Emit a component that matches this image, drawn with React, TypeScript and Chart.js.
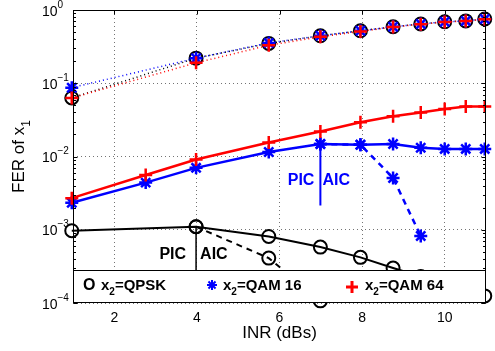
import React, { useEffect, useRef } from 'react';
import { Chart, registerables } from 'chart.js';

Chart.register(...registerables);

// INR grid (dB)
const inr = [0.97, 3.98, 5.74, 6.99, 7.96, 8.75, 9.42, 10, 10.51, 10.97];
const inrFine = [0.97, 2.76, 3.98, 5.74, 6.99, 7.96, 8.75, 9.42, 10, 10.51, 10.97];

// no interference cancellation (dotted)
const qpskNoIC = [0.063, 0.22, 0.35, 0.445, 0.52, 0.59, 0.645, 0.69, 0.71, 0.755];
const qam16NoIC = [0.087, 0.22, 0.355, 0.445, 0.52, 0.59, 0.645, 0.69, 0.71, 0.755];
const qam64NoIC = [0.063, 0.19, 0.33, 0.43, 0.51, 0.585, 0.64, 0.685, 0.705, 0.75];

// PIC (solid)
const qam64PIC = [0.0027, 0.0056, 0.0091, 0.0155, 0.022, 0.0293, 0.0354, 0.040, 0.0446, 0.0483, 0.0483];
const qam16PIC = [0.00234, 0.0044, 0.0070, 0.0115, 0.0148, 0.0145, 0.0148, 0.0132, 0.0127, 0.0127, 0.0127];
const qpskPIC = [0.00097, 0.0011, 0.00081, 0.00058, 0.00042, 0.0003, 0.00023, 0.00019, 0.000155, 0.000125];

// AIC (dashed)
const qam16AICx = [6.99, 7.96, 8.75, 9.42];
const qam16AIC = [0.0148, 0.0145, 0.0051, 0.00082];
const qpskAICx = [3.98, 5.74, 6.99];
const qpskAIC = [0.0011, 0.00041, 0.000107];

// PIC/AIC dividers
const qam16DivX = [6.99, 6.99];
const qam16DivY = [0.0148, 0.00215];
const qpskDivX = [3.98, 3.98];
const qpskDivY = [0.0011, 0.0001];

// axes
const xTicks = [2, 4, 6, 8, 10];
const yTicks = [0.0001, 0.001, 0.01, 0.1, 1];
const yTickExp = ['−4', '−3', '−2', '−1', '0'];

const FONT = "'Liberation Sans', Arial, Helvetica, sans-serif";
const BLUE = '#0000ff';
const RED = '#ff0000';
const BLACK = '#000000';

const pts = (xs: number[], ys: number[]) => xs.map((x, i) => ({ x, y: ys[i] }));

function drawSubText(ctx: CanvasRenderingContext2D, x: number, y: number, pre: string, sub: string, post: string, size: number, bold: boolean) {
  const w = bold ? 'bold ' : '';
  ctx.font = `${w}${size}px ${FONT}`;
  ctx.textAlign = 'left';
  ctx.fillText(pre, x, y);
  let cx = x + ctx.measureText(pre).width;
  ctx.font = `${w}${Math.round(size * 0.68)}px ${FONT}`;
  ctx.fillText(sub, cx, y + size * 0.33);
  cx += ctx.measureText(sub).width;
  ctx.font = `${w}${size}px ${FONT}`;
  ctx.fillText(post, cx, y);
  return cx + ctx.measureText(post).width;
}

const overlay = {
  id: 'overlay',
  afterDraw(chart: any) {
    const { ctx, chartArea: a, scales } = chart;
    const xs = scales.x;
    const ys = scales.y;
    ctx.save();
    ctx.strokeStyle = BLACK;
    ctx.fillStyle = BLACK;
    ctx.lineWidth = 1;
    ctx.setLineDash([]);

    const L = Math.round(a.left) + 0.5;
    const R = Math.round(a.right) - 0.5;
    const T = Math.round(a.top) + 0.5;
    const B = Math.round(a.bottom) - 0.5;

    // tick marks (inside)
    ctx.beginPath();
    for (const v of xTicks) {
      const p = Math.round(xs.getPixelForValue(v)) + 0.5;
      ctx.moveTo(p, B); ctx.lineTo(p, B - 4);
      ctx.moveTo(p, T); ctx.lineTo(p, T + 4);
    }
    for (const v of yTicks) {
      const p = Math.round(ys.getPixelForValue(v)) + 0.5;
      ctx.moveTo(L, p); ctx.lineTo(L + 4, p);
      ctx.moveTo(R, p); ctx.lineTo(R - 4, p);
    }
    for (let d = 0; d < yTicks.length - 1; d++) {
      for (let m = 2; m <= 9; m++) {
        const p = Math.round(ys.getPixelForValue(yTicks[d] * m)) + 0.5;
        ctx.moveTo(L, p); ctx.lineTo(L + 2.5, p);
        ctx.moveTo(R, p); ctx.lineTo(R - 2.5, p);
      }
    }
    ctx.stroke();

    // axes box
    ctx.strokeRect(L, T, R - L, B - T);

    // x tick labels
    ctx.font = `14px ${FONT}`;
    ctx.textAlign = 'center';
    ctx.textBaseline = 'alphabetic';
    for (const v of xTicks) {
      ctx.fillText(String(v), xs.getPixelForValue(v), 322);
    }
    // y tick labels
    yTicks.forEach((v, i) => {
      const p = ys.getPixelForValue(v);
      ctx.font = `14px ${FONT}`;
      ctx.textAlign = 'right';
      ctx.fillText('10', 57.5, p + 5.5);
      ctx.font = `10px ${FONT}`;
      ctx.textAlign = 'left';
      ctx.fillText(yTickExp[i], 57.5, p - 2.5);
    });

    // axis titles
    ctx.font = `17px ${FONT}`;
    ctx.textAlign = 'center';
    ctx.fillText('INR (dBs)', (a.left + a.right) / 2, 338);

    ctx.save();
    ctx.translate(24, (a.top + a.bottom) / 2);
    ctx.rotate(-Math.PI / 2);
    ctx.font = `17px ${FONT}`;
    const w1 = ctx.measureText('FER of x').width;
    ctx.font = `12px ${FONT}`;
    const w2 = ctx.measureText('1').width;
    drawSubText(ctx, -(w1 + w2) / 2, 0, 'FER of x', '1', '', 17, false);
    ctx.restore();

    // PIC / AIC annotations
    ctx.font = `bold 16px ${FONT}`;
    ctx.textBaseline = 'middle';
    ctx.fillStyle = BLUE;
    const bx = xs.getPixelForValue(6.99);
    const by = ys.getPixelForValue(0.0047);
    ctx.textAlign = 'right';
    ctx.fillText('PIC', bx - 6, by);
    ctx.textAlign = 'left';
    ctx.fillText('AIC', bx + 2, by);
    ctx.fillStyle = BLACK;
    const kx = xs.getPixelForValue(3.98);
    const ky = ys.getPixelForValue(0.00046);
    ctx.textAlign = 'right';
    ctx.fillText('PIC', kx - 10, ky);
    ctx.textAlign = 'left';
    ctx.fillText('AIC', kx + 4, ky);

    // legend box
    const lt = Math.round(a.bottom) - 33 + 0.5;
    ctx.fillStyle = '#ffffff';
    ctx.fillRect(L, lt, R - L, B - lt);
    ctx.strokeStyle = BLACK;
    ctx.lineWidth = 1;
    ctx.strokeRect(L, lt, R - L, B - lt);

    const ly = lt + 19.5;
    ctx.textBaseline = 'alphabetic';
    ctx.fillStyle = BLACK;
    ctx.font = `bold 16px ${FONT}`;
    ctx.textAlign = 'left';
    ctx.fillText('O', a.left + 10, ly);
    drawSubText(ctx, a.left + 28, ly, 'x', '2', '=QPSK', 15, true);

    // star marker
    ctx.strokeStyle = BLUE;
    ctx.lineWidth = 2;
    const sx = a.left + 139;
    const sy = ly - 5;
    ctx.beginPath();
    for (let k = 0; k < 4; k++) {
      const ang = (k * Math.PI) / 4;
      ctx.moveTo(sx - 5 * Math.cos(ang), sy - 5 * Math.sin(ang));
      ctx.lineTo(sx + 5 * Math.cos(ang), sy + 5 * Math.sin(ang));
    }
    ctx.stroke();
    ctx.fillStyle = BLACK;
    drawSubText(ctx, a.left + 150, ly, 'x', '2', '=QAM 16', 15, true);

    // plus marker
    ctx.strokeStyle = RED;
    ctx.lineWidth = 3;
    const px = a.left + 279;
    const py = ly - 3;
    ctx.beginPath();
    ctx.moveTo(px - 6, py); ctx.lineTo(px + 6, py);
    ctx.moveTo(px, py - 6); ctx.lineTo(px, py + 6);
    ctx.stroke();
    ctx.fillStyle = BLACK;
    drawSubText(ctx, a.left + 292, ly, 'x', '2', '=QAM 64', 15, true);

    ctx.restore();
  },
};

const circle = { pointStyle: 'circle', pointRadius: 6.5, pointBorderWidth: 2, pointBorderColor: BLACK, pointBackgroundColor: 'rgba(0,0,0,0)' };
const star = { pointStyle: 'star', pointRadius: 6.5, pointBorderWidth: 2.5, pointBorderColor: BLUE, pointBackgroundColor: BLUE };
const plus = { pointStyle: 'cross', pointRadius: 6.5, pointBorderWidth: 2.5, pointBorderColor: RED, pointBackgroundColor: RED };

export default function App() {
  const ref = useRef<HTMLCanvasElement | null>(null);
  useEffect(() => {
    if (!ref.current) return;
    const dotted = [1, 3];
    const dashed = [6, 5];
    const chart = new Chart(ref.current, {
      type: 'line',
      data: {
        datasets: [
          { data: pts(inr, qam64NoIC), borderColor: RED, borderWidth: 1.5, borderDash: dotted, ...plus, clip: false } as any,
          { data: pts(inr, qam16NoIC), borderColor: BLUE, borderWidth: 1.5, borderDash: dotted, ...star, clip: false } as any,
          { data: pts(inr, qpskNoIC), borderColor: BLACK, borderWidth: 1.5, borderDash: dotted, ...circle, clip: false } as any,
          { data: pts(inrFine, qam64PIC), borderColor: RED, borderWidth: 2.5, ...plus, clip: false } as any,
          { data: pts(inrFine, qam16PIC), borderColor: BLUE, borderWidth: 2.5, ...star, clip: false } as any,
          { data: pts(qam16AICx, qam16AIC), borderColor: BLUE, borderWidth: 2.5, borderDash: dashed, ...star, clip: false } as any,
          { data: pts(qam16DivX, qam16DivY), borderColor: BLUE, borderWidth: 2, pointRadius: 0, clip: false } as any,
          { data: pts(inr, qpskPIC), borderColor: BLACK, borderWidth: 2, ...circle, clip: false } as any,
          { data: pts(qpskAICx, qpskAIC), borderColor: BLACK, borderWidth: 2, borderDash: dashed, ...circle, clip: false } as any,
          { data: pts(qpskDivX, qpskDivY), borderColor: BLACK, borderWidth: 1.5, pointRadius: 0, clip: false } as any,
        ],
      },
      options: {
        responsive: false,
        animation: false,
        events: [],
        layout: { padding: { top: 10, right: 7, left: 0, bottom: 0 } },
        elements: { line: { tension: 0, fill: false } },
        plugins: { legend: { display: false }, tooltip: { enabled: false } },
        scales: {
          x: {
            type: 'linear',
            min: 1,
            max: 11,
            afterBuildTicks: (s: any) => { s.ticks = xTicks.map((v) => ({ value: v })); },
            afterFit: (s: any) => { s.height = 48; },
            ticks: { display: false },
            grid: { color: 'rgba(0,0,0,0.55)', lineWidth: 1, drawTicks: false },
            border: { display: false, dash: [1, 3] },
          },
          y: {
            type: 'logarithmic',
            min: 0.0001,
            max: 1,
            afterBuildTicks: (s: any) => { s.ticks = yTicks.map((v) => ({ value: v })); },
            afterFit: (s: any) => { s.width = 73; },
            ticks: { display: false },
            grid: { color: 'rgba(0,0,0,0.55)', lineWidth: 1, drawTicks: false },
            border: { display: false, dash: [1, 3] },
          },
        },
      } as any,
      plugins: [overlay],
    });
    return () => chart.destroy();
  }, []);
  return (
    <div style={{ position: 'absolute', left: 0, top: 0, width: 495, height: 351, background: '#fff' }}>
      <canvas ref={ref} width={495} height={351} style={{ display: 'block' }} />
    </div>
  );
}
